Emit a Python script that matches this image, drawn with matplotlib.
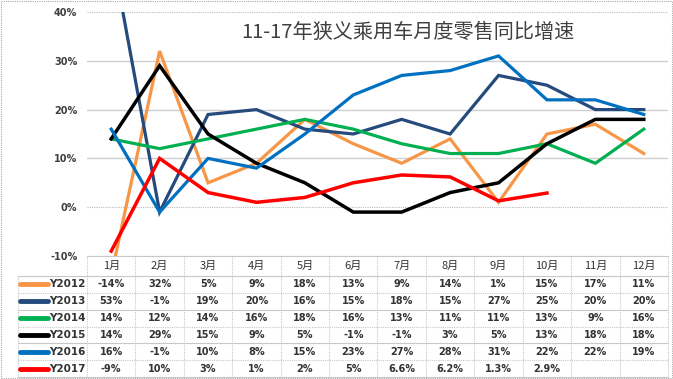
import matplotlib
matplotlib.use('Agg')
import matplotlib.pyplot as plt
from matplotlib.patches import Rectangle
from matplotlib.lines import Line2D

months = ['1月', '2月', '3月', '4月', '5月', '6月', '7月', '8月', '9月', '10月', '11月', '12月']
series_names = ['Y2012', 'Y2013', 'Y2014', 'Y2015', 'Y2016', 'Y2017']
y2012 = [-14, 32, 5, 9, 18, 13, 9, 14, 1, 15, 17, 11]
y2013 = [53, -1, 19, 20, 16, 15, 18, 15, 27, 25, 20, 20]
y2014 = [14, 12, 14, 16, 18, 16, 13, 11, 11, 13, 9, 16]
y2015 = [14, 29, 15, 9, 5, -1, -1, 3, 5, 13, 18, 18]
y2016 = [16, -1, 10, 8, 15, 23, 27, 28, 31, 22, 22, 19]
y2017 = [-9, 10, 3, 1, 2, 5, 6.6, 6.2, 1.3, 2.9]
yticks = [-10, 0, 10, 20, 30, 40]
title = '11-17年狭义乘用车月度零售同比增速'

series = [y2012, y2013, y2014, y2015, y2016, y2017]
colors = ['#F79646', '#254A7C', '#00B050', '#000000', '#0070C0', '#FF0000']
widths = [2.3, 2.3, 2.3, 2.5, 2.3, 2.5]

cjk = ['Noto Sans CJK SC', 'DejaVu Sans']
plt.rcParams['font.family'] = cjk

W, H = 673, 379
fig = plt.figure(figsize=(W / 100, H / 100), dpi=100)

# main plot area in pixels
L, R, T, B = 87, 668, 12, 256
ax = fig.add_axes([L / W, 1 - B / H, (R - L) / W, (B - T) / H])
ax.set_xlim(-0.5, len(months) - 0.5)
ax.set_ylim(yticks[0], yticks[-1])
for s in ax.spines.values():
    s.set_visible(False)
ax.set_xticks([])
ax.set_yticks(yticks)
ax.set_yticklabels([f'{v}%' for v in yticks], fontsize=7, fontweight='bold',
                   color='#404040', family='DejaVu Sans')
ax.tick_params(axis='y', length=0, pad=7)
for v in yticks:
    if v in (yticks[0], 0, yticks[-1]):
        ax.axhline(v, color='#BBBBBB', lw=0.8, ls=(0, (1, 1)), zorder=0)
    else:
        ax.axhline(v, color='#CFCFCF', lw=1.0, zorder=0)

for vals, c, lw in zip(series, colors, widths):
    ax.plot(range(len(vals)), vals, color=c, lw=lw, solid_joinstyle='miter', zorder=3)

fig.text(408 / W, 1 - 32 / H, title, ha='center', va='center', fontsize=14.5,
         color='#404040', family=cjk)

# table
TL, TB = 18, 377
hdr = 20
rowh = (TB - B - hdr) / len(series_names)
tab = fig.add_axes([TL / W, 1 - TB / H, (R - TL) / W, (TB - B) / H])
colw = (R - L) / len(months)
tab.set_xlim(-0.5 - (L - TL) / colw, len(months) - 0.5)
tab.set_ylim(TB - B, 0)
tab.axis('off')

def px2x(px):
    return -0.5 + (px - L) / colw

gray = '#C8C8C8'
# horizontal lines
tab.plot([-0.5, len(months) - 0.5], [0, 0], color=gray, lw=0.8, clip_on=False)
for k in range(len(series_names) + 1):
    yy = hdr + k * rowh
    tab.plot([px2x(TL), len(months) - 0.5], [yy, yy], color=gray, lw=0.8,
             ls='-' if k % 2 == 0 else (0, (1, 1)), clip_on=False)
# vertical lines
for i in range(len(months) + 1):
    tab.plot([i - 0.5, i - 0.5], [0, TB - B], color=gray, lw=0.8,
             ls=(0, (1, 1)), clip_on=False)
tab.plot([px2x(TL), px2x(TL)], [hdr, TB - B], color=gray, lw=0.8,
         ls=(0, (1, 1)), clip_on=False)

for i, m in enumerate(months):
    tab.text(i, hdr / 2, m, ha='center', va='center', fontsize=8,
             color='#333333', family=cjk)

def fmt(v):
    return f'{int(v)}%' if float(v).is_integer() else f'{v:.1f}%'

for r, (name, vals, c) in enumerate(zip(series_names, series, colors)):
    yc = hdr + (r + 0.5) * rowh
    tab.plot([px2x(20), px2x(48)], [yc, yc], color=c, lw=3.5,
             solid_capstyle='round', clip_on=False)
    tab.text(px2x(49), yc, name, ha='left', va='center', fontsize=7.5,
             fontweight='bold', color='#333333', family='DejaVu Sans')
    for i, v in enumerate(vals):
        tab.text(i, yc, fmt(v), ha='center', va='center', fontsize=7,
                 fontweight='bold', color='#333333', family='DejaVu Sans')

fig.add_artist(Rectangle((0.0015, 0.0025), 0.997, 0.995, transform=fig.transFigure,
                         fill=False, ec='#AAAAAA', lw=0.8, ls=(0, (1, 1))))

fig.savefig('out.png', dpi=100, facecolor='white')
